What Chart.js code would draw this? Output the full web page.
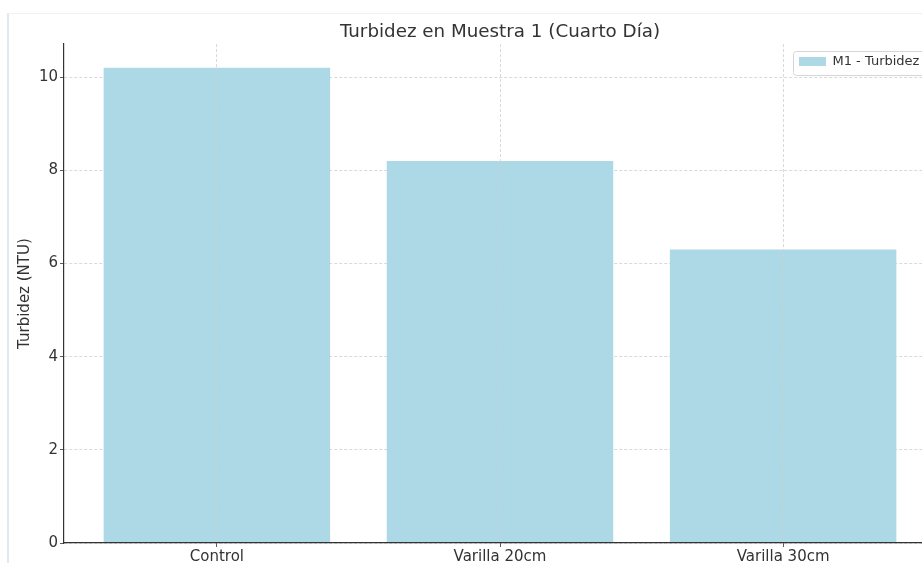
<!DOCTYPE html>
<html>
<head>
<meta charset="utf-8">
<script src="https://cdn.jsdelivr.net/npm/chart.js@4.4.1/dist/chart.umd.min.js"></script>
<style>
  html, body { margin: 0; padding: 0; background: #fff; overflow: hidden; width: 922px; height: 563px; }
  #frame { position: absolute; left: 7px; top: 13px; width: 1200px; height: 700px;
           border-left: 2px solid #e2e8ec; border-top: 1px solid #f1f1f1; }
  #wrap { position: absolute; left: 0; top: 0; width: 1000px; height: 563px; }
</style>
</head>
<body>
<div id="frame"></div>
<div id="wrap"><canvas id="c" width="1000" height="563"></canvas></div>
<script>
const categories = ['Control', 'Varilla 20cm', 'Varilla 30cm'];
const turbidity = [10.2, 8.2, 6.3];
const yTicks = [0, 2, 4, 6, 8, 10];
const seriesLabel = 'M1 - Turbidez';
const chartTitle = 'Turbidez en Muestra 1 (Cuarto Día)';
const yTitle = 'Turbidez (NTU)';

Chart.defaults.font.family = "'DejaVu Sans', 'Liberation Sans', sans-serif";
Chart.defaults.color = '#333';

const legendPlacer = {
  id: 'legendPlacer',
  beforeUpdate(chart) {
    const lg = chart.legend;
    if (lg && !lg._patched) {
      const orig = lg.fit.bind(lg);
      lg.fit = function () { orig(); this._realH = this.height; this.height = 0; };
      lg._patched = true;
    }
  },
  afterLayout(chart) {
    const lg = chart.legend;
    if (!lg) return;
    lg.left = 793; lg.right = 1000;
    lg.top = 49; lg.bottom = 49 + (lg._realH || 30);
  },
  afterDraw(chart) {
    const lg = chart.legend;
    if (!lg) return;
    const ctx = chart.ctx;
    ctx.save();
    ctx.strokeStyle = '#d6d6d6';
    ctx.lineWidth = 1;
    ctx.beginPath();
    ctx.roundRect(lg.left + 0.5, lg.top + 2.5, 150, 24, 3);
    ctx.stroke();
    ctx.restore();
  }
};

new Chart(document.getElementById('c'), {
  type: 'bar',
  data: {
    datasets: [{
      label: seriesLabel,
      data: turbidity.map((v, i) => ({ x: i, y: v })),
      backgroundColor: '#ADD8E6',
      borderWidth: 0,
      barPercentage: 0.8,
      categoryPercentage: 1.0
    }]
  },
  options: {
    responsive: false,
    animation: false,
    devicePixelRatio: 1,
    layout: { padding: { left: 0, right: 64, top: 0, bottom: 0 } },
    plugins: {
      tooltip: { enabled: false },
      title: {
        display: true,
        fullSize: false,
        text: chartTitle,
        color: '#333',
        font: { size: 18.3, weight: 'normal' },
        padding: { top: 21.5, bottom: 0.6 }
      },
      legend: {
        display: true,
        position: 'top',
        align: 'start',
        fullSize: false,
        labels: {
          boxWidth: 27,
          boxHeight: 9,
          padding: 6,
          color: '#333',
          font: { size: 13 }
        }
      }
    },
    scales: {
      x: {
        type: 'linear',
        offset: false,
        min: -0.54,
        max: 2.54,
        afterBuildTicks: s => { s.ticks = categories.map((c, i) => ({ value: i })); },
        afterFit: s => { s.height = 20; },
        ticks: {
          autoSkip: false,
          maxRotation: 0,
          includeBounds: false,
          padding: 1,
          color: '#333',
          font: { size: 15 },
          callback: v => categories[v] !== undefined ? categories[v] : ''
        },
        grid: {
          offset: false,
          color: '#cfcfcf',
          lineWidth: 0.8,
          tickLength: 4,
          tickColor: '#333',
          tickBorderDash: [],
          z: 1
        },
        border: { color: '#333', width: 1.2, dash: [3, 2], z: 2 }
      },
      y: {
        min: 0,
        max: 10.71,
        afterBuildTicks: s => { s.ticks = yTicks.map(v => ({ value: v })); },
        afterFit: s => { s.width = 64; },
        ticks: {
          includeBounds: false,
          padding: 2,
          color: '#333',
          font: { size: 15 }
        },
        title: {
          display: true,
          text: yTitle,
          color: '#333',
          font: { size: 15 },
          padding: { top: 16, bottom: 0 }
        },
        grid: {
          color: '#cfcfcf',
          lineWidth: 0.8,
          tickLength: 4,
          tickColor: '#333',
          tickBorderDash: [],
          z: -1
        },
        border: { color: '#333', width: 1.2, dash: [3, 2], z: 2 }
      }
    }
  },
  plugins: [legendPlacer]
});
</script>
</body>
</html>
